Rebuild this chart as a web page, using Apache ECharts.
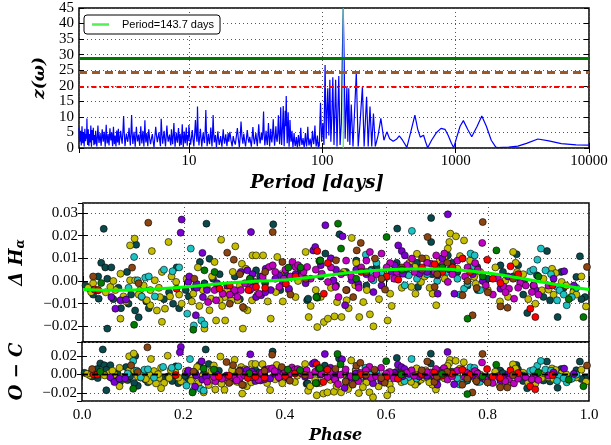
<!DOCTYPE html>
<html><head><meta charset="utf-8">
<script src="https://cdn.jsdelivr.net/npm/echarts@6/dist/echarts.min.js"></script>
<style>html,body{margin:0;padding:0;background:#fff}#c{width:611px;height:445px}</style>
</head><body><div id="c"></div><script>
// ---------- DATA ----------
const bestPeriod = 143.7;
const legendLabel = 'Period=143.7 days';
const zLevels = [29.0, 24.4, 19.7];           // green solid, brown dashed, red dash-dot
const periodTicks = [10, 100, 1000, 10000];
const phaseTicks = [0, 0.2, 0.4, 0.6, 0.8, 1.0];

// periodogram [period (days), z]
const periodogram = [
[1.50,6.5],[1.51,3.5],[1.52,2.0],[1.53,4.0],[1.54,5.5],[1.55,3.0],[1.56,0.8],[1.57,3.6],[1.58,7.0],[1.59,4.2],[1.60,1.5],[1.61,3.2],[1.62,4.8],[1.63,2.5],[1.64,0.5],[1.65,3.8],[1.66,6.2],[1.67,3.5],[1.68,2.2],[1.69,4.5],[1.70,5.0],[1.71,3.0],[1.72,9.5],[1.73,4.0],[1.74,1.0],[1.75,3.3],[1.76,6.0],[1.77,2.8],[1.78,0.6],[1.79,3.0],[1.80,4.5],[1.81,2.6],[1.82,1.8],[1.83,4.4],[1.84,7.2],[1.85,3.1],[1.86,0.4],[1.87,3.5],[1.88,5.8],[1.89,4.0],[1.90,2.5],[1.91,4.6],[1.92,6.5],[1.93,3.0],[1.94,0.9],[1.95,2.8],[1.96,4.2],[1.97,2.5],[1.98,1.2],[1.99,3.4],
[2.00,5.5],[2.02,2.6],[2.04,0.5],[2.06,3.8],[2.08,7.2],[2.10,3.3],[2.12,1.6],[2.14,3.5],[2.16,4.8],[2.18,2.2],[2.20,0.7],[2.22,3.9],[2.24,6.0],[2.26,3.6],[2.28,2.0],[2.30,4.1],[2.32,5.2],[2.34,2.4],[2.36,0.4],[2.38,4.2],[2.40,7.5],[2.42,3.5],[2.44,1.5],[2.46,3.0],[2.48,4.5],[2.50,2.1],[2.52,0.8],[2.54,3.7],[2.56,6.3],[2.58,4.0],[2.60,2.4],[2.62,3.8],[2.64,5.0],[2.66,2.3],[2.68,0.6],[2.70,3.9],[2.72,6.8],[2.74,3.4],[2.76,1.2],[2.78,2.9],[2.80,4.0],[2.82,2.0],[2.84,0.5],[2.86,3.2],[2.88,5.6],[2.90,3.6],[2.92,1.8],[2.94,4.3],[2.96,6.2],[2.98,3.0],
[3.00,0.9],[3.04,3.4],[3.08,5.5],[3.12,3.1],[3.16,1.4],[3.20,5.0],[3.24,10.3],[3.28,4.5],[3.32,0.6],[3.36,2.8],[3.40,4.6],[3.44,3.0],[3.48,2.0],[3.52,4.1],[3.56,6.5],[3.60,3.2],[3.64,0.8],[3.68,4.8],[3.72,10.6],[3.76,4.4],[3.80,1.3],[3.84,3.3],[3.88,5.2],[3.92,2.6],[3.96,0.4],[4.00,3.7],[4.04,6.8],[4.08,4.0],[4.12,2.1],[4.16,3.4],[4.20,4.3],[4.24,2.2],[4.28,0.7],[4.32,3.9],[4.36,7.0],[4.40,3.8],[4.44,1.5],[4.48,3.6],[4.52,5.5],[4.56,2.7],[4.60,0.5],[4.64,4.2],[4.68,8.9],[4.72,4.1],[4.76,1.8],[4.80,3.5],[4.84,4.8],[4.88,2.4],[4.92,0.6],[4.96,3.3],
[5.00,6.0],[5.08,3.0],[5.16,1.2],[5.24,3.1],[5.32,4.5],[5.40,2.0],[5.48,0.3],[5.56,3.6],[5.64,6.8],[5.72,3.9],[5.80,1.9],[5.88,3.6],[5.96,5.0],[6.04,2.4],[6.12,0.6],[6.20,9.4],[6.28,4.5],[6.36,1.4],[6.44,3.5],[6.52,5.5],[6.60,2.6],[6.68,0.5],[6.76,3.9],[6.84,7.2],[6.92,3.8],[7.00,2.0],[7.08,3.3],[7.16,4.3],[7.24,2.1],[7.32,0.8],[7.40,6.0],[7.48,3.2],[7.56,1.2],[7.64,4.4],[7.72,8.0],[7.80,3.5],[7.88,0.4],[7.96,3.0],[8.04,5.0],[8.12,2.8],[8.20,1.7],[8.28,4.3],[8.36,6.4],[8.44,3.0],[8.52,0.6],[8.60,4.6],[8.68,2.6],[8.76,1.0],[8.84,4.2],[8.92,7.6],[9.00,3.5],[9.08,0.3],[9.16,3.0],[9.24,5.3],[9.32,2.8],[9.40,1.5],[9.48,4.0],[9.56,6.6],[9.64,3.1],[9.72,0.7],[9.80,4.2],[9.88,2.3],[9.96,5.0],
[10.0,7.4],[10.15,3.6],[10.3,1.1],[10.45,3.2],[10.6,5.8],[10.75,2.6],[10.9,0.5],[11.05,4.5],[11.2,9.0],[11.35,4.2],[11.5,2.0],[11.6,13.3],[11.75,4.0],[11.9,0.8],[12.05,3.6],[12.2,6.2],[12.35,2.8],[12.5,0.4],[12.65,3.0],[12.8,5.0],[12.95,2.5],[13.1,1.6],[13.25,5.5],[13.4,12.2],[13.55,4.5],[13.7,0.6],[13.85,2.6],[14.0,4.6],[14.15,2.4],[14.3,1.2],[14.45,3.9],[14.6,6.6],[14.75,3.0],[14.9,0.5],[15.05,4.8],[15.2,10.6],[15.35,4.6],[15.5,1.8],[15.65,3.0],[15.8,4.2],[15.95,2.0],[16.1,0.3],[16.3,3.1],[16.5,5.4],[16.7,2.6],[16.9,1.0],[17.1,2.5],[17.3,3.8],[17.5,1.8],[17.7,0.4],[17.9,3.4],[18.1,6.0],[18.3,3.0],[18.5,1.4],[18.7,2.9],[18.9,4.4],[19.1,2.2],[19.3,0.6],[19.5,3.0],[19.7,4.8],[19.9,2.0],
[20.3,5.2],[20.7,2.4],[21.1,0.5],[21.5,3.8],[21.9,2.0],[22.3,1.1],[22.7,3.8],[23.1,6.4],[23.5,2.8],[23.9,0.3],[24.3,4.0],[24.6,8.5],[25.0,3.6],[25.4,1.4],[25.8,4.6],[26.2,2.2],[26.6,0.5],[27.0,3.1],[27.4,5.8],[27.8,3.0],[28.2,1.7],[28.6,3.6],[29.0,2.0],[29.4,0.4],[29.8,3.4],[30.2,6.7],[30.6,3.1],[31.0,1.2],[31.4,3.0],[31.8,4.8],[32.2,2.4],[32.6,0.6],[33.0,4.0],[33.4,7.6],[33.8,3.6],[34.2,1.5],[34.6,3.2],[35.0,5.0],[35.4,2.5],[35.8,4.5],[36.3,11.7],[36.7,4.0],[37.1,0.8],[37.5,3.0],[37.9,5.5],[38.3,2.7],[38.7,1.0],[39.1,4.2],[39.5,8.0],[39.9,3.6],[40.3,0.5],[40.7,3.4],[41.1,6.2],[41.5,3.0],[41.9,1.8],[42.4,4.6],[42.9,9.2],[43.4,4.0],[43.9,0.7],[44.4,3.5],[44.9,7.0],[45.4,3.2],[45.9,2.0],[46.4,5.0],[46.9,10.5],[47.4,4.5],[47.9,1.2],[48.4,6.0],[48.8,13.1],[49.2,5.0],[49.6,1.0],
[50.0,4.5],[50.5,8.0],[51.0,13.5],[51.4,5.0],[51.8,0.6],[52.2,5.0],[52.7,12.0],[53.2,7.0],[53.7,16.7],[54.2,6.0],[54.6,1.5],[55.0,5.0],[55.5,11.5],[56.0,4.0],[56.4,0.4],[56.8,3.5],[57.3,9.0],[57.8,4.5],[58.3,2.0],[58.8,3.2],[59.3,5.5],[59.8,2.2],[60.3,0.3],[60.9,2.5],[61.5,4.8],[62.1,2.0],[62.7,0.6],[63.3,1.8],[63.9,3.5],[64.5,1.5],[65.1,0.2],[65.7,2.2],[66.3,4.2],[67.0,2.0],[67.6,0.5],[68.3,3.0],[69.0,6.5],[69.7,2.8],[70.4,1.0],[71.1,2.0],[71.8,3.2],[72.5,1.2],[73.3,0.3],[74.0,2.4],[74.8,4.8],[75.5,2.0],[76.3,0.5],[77.1,3.2],[77.9,6.8],[78.7,3.0],[79.5,0.8],[80.3,1.8],[81.1,3.0],[82.0,1.4],[82.8,0.3],[83.6,2.6],[84.5,5.5],[85.4,2.6],[86.3,1.2],[87.2,3.5],[88.1,7.2],[89.0,3.0],[90.0,0.5],[91.0,2.2],[91.9,4.0],[92.7,1.5],[93.5,0.3],[94.3,1.8],
[95,0.5],[97,14.5],[99,2],[101,8],[103,1],[105,26.7],[107,3],[108.5,12],[110,19.2],[112,4],[114,21.9],[116,2],[118,10],[120,22.7],[122.5,1],[126,21.9],[129,0.5],[133,23.1],[136,1],[139,8],[141.5,30],[143.7,45],[146,28],[148.5,3],[153,19.7],[155.5,2],[158,19.2],[161,1],[165,14],[170,0.5],[180,24.2],[186,0.5],[192,8],[200,19.7],[206,0.5],[215,16.5],[221,0.5],[228,13.3],[235,0.5],[242,11.1],[250,0.5],[262,4],[275,9.5],[290,2.5],[305,5.2],[320,3],[340,2.2],[360,2.8],[378,3.9],[400,2.5],[431,0.2],[460,5],[495,10.6],[520,6],[543,3.5],[575,4.1],[595,2],[617,0.1],[660,2.5],[720,5],[777,6.3],[800,6.2],[832,6.0],[880,4],[930,1.5],[968,0.1],[1020,3.5],[1080,7],[1143,8.8],[1230,6],[1321,3.6],[1450,7],[1571,10.3],[1700,7],[1850,2.5],[2000,0.3],[2074,0.1],[2500,0.3],[2930,0.6],[3400,1.5],[4140,2.9],[5000,2.3],[6200,1.4],[8000,1.0],[10000,0.9]
];

// phased H-alpha index [phase, dH]
const tealPts = [[0.041,0.023],[0.036,0.008],[0.044,0.006],[0.056,0.006],[0.048,0.001],[0.048,-0.021],[0.005,-0.002],[0.014,-0.0034],[0.031,-0.0078],[0.087,0.004],[0.09,-0.010],[0.11,-0.016],[0.103,-0.013],[0.105,0.016],[0.178,-0.010],[0.19,-0.012],[0.209,-0.0068],[0.231,0.0084],[0.244,0.0253],[0.25,0.0098],[0.257,0.001],[0.203,-0.004],[0.376,0.025],[0.342,0.0047],[0.443,-0.0085],[0.463,-0.0068],[0.507,0.0206],[0.479,0.0121],[0.445,-0.0078],[0.621,0.0231],[0.688,0.0278],[0.688,0.0172],[0.721,0.0113],[0.825,0.0069],[0.857,0.0118],[0.917,0.0132],[0.982,0.0109],[0.975,0.0018],[0.992,-0.0071],[0.878,-0.0141],[0.938,-0.0159],[0.662,-0.0026],[0.6,0.0018],[0.74,0.004],[0.779,0.0062],[0.851,0.0021],[0.897,0.0025],[0.923,-0.0085],[0.02,-0.006],[0.06,-0.008],[0.075,-0.012],[0.125,-0.009],[0.16,-0.008],[0.22,-0.003],[0.28,-0.006],[0.30,0.002],[0.33,-0.004],[0.36,-0.001],[0.40,0.003],[0.52,0.004],[0.56,-0.002],[0.58,0.006],[0.64,0.003],[0.70,0.006],[0.76,-0.002],[0.80,0.001],[0.87,-0.006],[0.95,-0.003],
[0.03,0.002],[0.07,-0.003],[0.095,-0.006],[0.13,-0.012],[0.17,-0.005],[0.185,0.006],[0.24,-0.001],[0.27,0.003],[0.31,-0.008],[0.35,0.002],[0.39,-0.004],[0.43,0.004],[0.47,0.002],[0.50,-0.002],[0.54,0.009],[0.57,0.005],[0.62,0.008],[0.66,0.008],[0.69,0.003],[0.73,0.008],[0.75,0.010],[0.78,-0.004],[0.83,0.004],[0.86,0.007],[0.89,-0.002],[0.91,-0.007],[0.945,0.004],[0.97,-0.004],[0.985,-0.008]];
const olivePts = [[0.093,0.0157],[0.102,0.0187],[0.136,0.0132],[0.169,0.0172],[0.074,0.0032],[0.093,0.0003],[0.074,-0.0166],[0.08,-0.0068],[0.116,-0.0071],[0.133,-0.0107],[0.142,0.0003],[0.156,0.004],[0.152,-0.0071],[0.162,-0.0122],[0.156,-0.018],[0.172,-0.0068],[0.184,-0.0004],[0.133,-0.004],[0.113,-0.004],[0.064,-0.004],[0.016,-0.0049],[0.03,-0.0041],[0.054,-0.0026],[0.146,-0.013],[0.126,-0.0085],[0.103,0.0003],[0.227,0.006],[0.26,0.0084],[0.237,-0.004],[0.253,-0.0078],[0.273,0.0182],[0.301,0.0153],[0.296,0.004],[0.314,0.0076],[0.322,0.0054],[0.335,0.0113],[0.342,0.0113],[0.356,0.0113],[0.316,-0.021],[0.306,-0.0085],[0.325,-0.0129],[0.28,-0.0071],[0.27,-0.0085],[0.25,-0.0129],[0.24,-0.021],[0.263,-0.0174],[0.281,-0.0174],[0.371,-0.0166],[0.355,0.001],[0.384,0.0106],[0.381,-0.0049],[0.407,-0.004],[0.42,-0.0071],[0.44,0.0128],[0.46,-0.004],[0.463,-0.0203],[0.446,-0.0159],[0.218,-0.0056],[0.293,-0.0085],[0.334,-0.0085],[0.531,0.019],[0.476,-0.0181],[0.484,-0.0166],[0.497,-0.0156],[0.511,-0.0159],[0.546,-0.0159],[0.567,-0.0147],[0.574,-0.02],[0.602,-0.0174],[0.538,-0.0019],[0.561,-0.004],[0.554,-0.0093],[0.521,-0.0085],[0.502,-0.0093],[0.607,-0.0056],[0.657,-0.0056],[0.698,-0.0107],[0.691,-0.0056],[0.668,-0.0004],[0.726,0.0209],[0.737,0.0197],[0.753,0.0179],[0.724,0.0172],[0.721,0.0143],[0.714,0.0106],[0.678,0.0099],[0.656,0.0062],[0.708,0.0062],[0.74,0.0054],[0.773,0.0018],[0.776,-0.0012],[0.819,0.0018],[0.835,0.0003],[0.85,0.0128],[0.858,0.004],[0.824,-0.009],[0.894,-0.01],[0.907,-0.0041],[0.927,0.0054],[0.934,0.0035],[0.92,-0.0038],[0.946,-0.0004],[0.969,-0.0049],[0.994,-0.0112],[0.964,-0.0071],[0.649,-0.0026],[0.01,-0.003],[0.045,-0.005],[0.085,-0.009],[0.12,-0.002],[0.175,0.002],[0.195,-0.010],
[0.02,-0.001],[0.06,0.0],[0.11,-0.006],[0.15,-0.003],[0.19,-0.006],[0.205,0.001],[0.215,-0.009],[0.23,-0.011],[0.245,-0.003],[0.255,0.002],[0.265,-0.002],[0.275,-0.011],[0.285,-0.004],[0.31,-0.002],[0.318,-0.012],[0.33,0.001],[0.345,-0.006],[0.365,-0.009],[0.39,0.003],[0.395,-0.009],[0.425,0.0],[0.45,-0.011],[0.47,-0.007],[0.49,-0.003],[0.515,0.004],[0.525,-0.012],[0.54,0.008],[0.585,-0.008],[0.595,0.003],[0.61,-0.011],[0.63,-0.003],[0.645,0.008],[0.66,0.012],[0.675,0.002],[0.685,-0.003],[0.705,0.009],[0.715,0.001],[0.745,0.011],[0.765,0.009],[0.785,0.004],[0.80,-0.004],[0.815,0.006],[0.84,-0.007],[0.855,0.008],[0.87,0.003],[0.88,-0.008],[0.91,0.001],[0.93,-0.006],[0.955,-0.002],[0.975,-0.006],[0.985,0.002]];
const purplePts = [[0.195,0.0271],[0.193,0.0213],[0.056,-0.0071],[0.064,-0.0122],[0.074,-0.0085],[0.085,-0.0082],[0.236,0.0124],[0.223,-0.0151],[0.332,0.0216],[0.208,-0.0004],[0.224,-0.0012],[0.237,-0.0071],[0.312,0.004],[0.325,0.0047],[0.342,-0.0071],[0.352,-0.0063],[0.371,-0.004],[0.361,0.0054],[0.388,0.0025],[0.407,-0.0034],[0.455,0.0135],[0.459,0.015],[0.479,0.0246],[0.721,0.0294],[0.513,0.0197],[0.623,0.0157],[0.63,0.0132],[0.636,0.0113],[0.495,0.0003],[0.531,0.0003],[0.544,-0.0012],[0.521,-0.004],[0.574,-0.0049],[0.518,-0.0107],[0.616,0.0069],[0.632,0.0032],[0.665,0.0032],[0.701,0.0025],[0.734,-0.0056],[0.951,0.0043],[0.825,-0.0034],[0.864,0.0003],[0.894,-0.0038],[0.701,-0.0056],
[0.21,0.002],[0.225,-0.003],[0.245,-0.004],[0.265,-0.001],[0.285,-0.002],[0.30,-0.005],[0.335,0.003],[0.36,-0.005],[0.38,0.001],[0.395,-0.001],[0.42,0.003],[0.44,-0.001],[0.47,0.007],[0.49,0.010],[0.50,0.005],[0.54,0.005],[0.56,0.003],[0.59,-0.002],[0.61,0.004],[0.645,0.006],[0.68,0.004],[0.71,0.010],[0.725,0.005],[0.77,0.003],[0.79,0.0],[0.84,0.002],[0.87,-0.001],[0.93,0.001],[0.97,-0.002]];
const magentaPts = [[0.312,-0.004],[0.329,-0.0026],[0.348,-0.0056],[0.368,0.0062],[0.375,0.0069],[0.397,0.001],[0.414,0.0084],[0.42,0.0062],[0.433,0.0025],[0.247,-0.0093],[0.263,-0.0085],[0.276,-0.0056],[0.299,-0.004],[0.34,-0.0004],[0.388,-0.0026],[0.436,0.004],[0.567,0.0128],[0.789,0.0168],[0.484,-0.0004],[0.499,-0.0026],[0.505,-0.0071],[0.607,0.0079],[0.65,0.0099],[0.688,0.0076],[0.698,0.0113],[0.714,0.0121],[0.721,-0.0004],[0.775,0.0079],[0.796,-0.0019],[0.832,-0.0026],[0.842,-0.0034],[0.852,-0.0078],[0.864,-0.0009],[0.891,-0.0019],[0.887,-0.0049],[0.472,0.0032],[0.443,0.0062],[0.59,0.0121],[0.53,0.002],[0.55,0.006],[0.57,0.001],[0.62,0.004],[0.67,0.005],[0.73,0.003],[0.76,0.006],[0.81,-0.006],
[0.26,-0.004],[0.29,-0.006],[0.305,-0.007],[0.32,-0.001],[0.335,-0.003],[0.355,0.002],[0.38,0.004],[0.40,0.005],[0.41,0.002],[0.425,0.007],[0.45,0.001],[0.46,0.005],[0.49,0.006],[0.51,0.003],[0.52,0.009],[0.545,-0.003],[0.56,0.009],[0.58,0.003],[0.60,0.006],[0.615,0.001],[0.64,0.007],[0.655,0.004],[0.68,0.008],[0.695,0.004],[0.71,0.007],[0.74,0.009],[0.755,0.002],[0.78,0.005],[0.82,0.001],[0.835,-0.005],[0.86,-0.003],[0.875,-0.002],[0.90,-0.006],[0.92,-0.002]];
const cyanPts = [[0.101,0.0106],[0.108,0.0003],[0.123,0.0015],[0.142,-0.0068],[0.116,-0.0068],[0.177,0.0043],[0.213,0.0143],[0.206,-0.0144],[0.219,-0.0196],[0.234,-0.0174],[0.24,-0.0191],[0.559,0.0116],[0.546,0.0054],[0.568,0.0043],[0.574,0.0003],[0.644,0.0025],[0.636,-0.0019],[0.65,0.0221],[0.766,0.0121],[0.774,0.0113],[0.74,0.001],[0.753,-0.0034],[0.76,-0.0012],[0.884,0.0043],[0.898,0.0094],[0.905,0.0143],[0.914,0.0047],[0.937,-0.0026],[0.942,-0.0041],[0.956,-0.0107],[0.937,-0.0085],[0.966,-0.0071],
[0.09,-0.003],[0.13,0.002],[0.16,0.005],[0.19,0.006],[0.58,0.008],[0.59,0.003],[0.62,0.002],[0.66,0.001],[0.68,0.003],[0.70,0.0],[0.72,0.004],[0.745,-0.006],[0.77,0.006],[0.785,-0.004],[0.87,0.0],[0.89,0.005],[0.925,0.003],[0.95,-0.006],[0.975,-0.003]];
const redPts = [[0.023,-0.0038],[0.185,-0.0034],[0.27,-0.0034],[0.327,-0.004],[0.342,-0.0026],[0.401,-0.0012],[0.463,0.0132],[0.484,0.0079],[0.623,0.0006],[0.695,0.0074],[0.75,0.0099],[0.799,0.0094],[0.845,0.0065],[0.825,-0.0009],[0.884,-0.0122],[0.894,-0.0159],[0.928,-0.0019],[0.476,-0.0056],
[0.03,-0.004],[0.29,-0.002],[0.36,-0.003],[0.42,0.002],[0.55,0.004],[0.60,0.002],[0.67,0.006],[0.71,0.004],[0.73,0.006],[0.765,0.004],[0.81,0.001],[0.86,0.003]];
const brownPts = [[0.129,0.0257],[0.097,0.0059],[0.285,0.0125],[0.298,0.0094],[0.29,-0.01],[0.375,0.0216],[0.394,0.0084],[0.316,-0.0115],[0.5,0.0091],[0.541,0.0135],[0.549,0.0168],[0.577,0.0099],[0.681,0.0194],[0.79,0.026],[0.597,-0.0038],[0.778,-0.0031],[0.695,-0.0026],[0.75,-0.0063],[0.825,-0.0112],[0.839,-0.0118],[0.77,-0.0151],[0.996,0.0062],[0.534,-0.0071],
[0.02,0.002],[0.11,-0.001],[0.22,0.001],[0.31,0.003],[0.36,0.004],[0.41,-0.006],[0.44,0.001],[0.52,-0.004],[0.56,0.004],[0.59,0.001],[0.63,0.006],[0.67,0.010],[0.70,0.003],[0.72,0.008],[0.76,0.0],[0.80,-0.005],[0.85,0.001]];
const greenPts = [[0.036,-0.0009],[0.101,-0.0193],[0.218,-0.0215],[0.24,0.0047],[0.406,0.0059],[0.463,-0.0074],[0.467,0.0088],[0.504,0.0253],[0.51,0.0143],[0.469,0.0091],[0.461,-0.0071],[0.6,0.0194],[0.817,0.0135],[0.76,-0.0166],[0.989,-0.0159],
[0.26,0.004],[0.33,0.001],[0.43,0.006],[0.54,0.001],[0.63,0.005],[0.71,0.006],[0.79,0.002],[0.90,0.002],[0.96,-0.008]];

// fitted sinusoid
const fitPhase = [0,0.05,0.1,0.15,0.2,0.25,0.3,0.35,0.4,0.45,0.5,0.55,0.6,0.65,0.7,0.75,0.8,0.85,0.9,0.95,1.0];
const fitValue = [-0.0038,-0.0041,-0.0040,-0.0034,-0.0026,-0.0016,-0.0007,0.0000,0.0004,0.0017,0.0030,0.0042,0.0050,0.0053,0.0053,0.0047,0.0035,0.0018,-0.0002,-0.0021,-0.0037];

// ---------- CHART ----------
const groups = [
  {pts: tealPts, color: '#0b4a4c'},
  {pts: olivePts, color: '#c4bd00'},
  {pts: cyanPts, color: '#1ec2c2'},
  {pts: purplePts, color: '#7a00d2'},
  {pts: magentaPts, color: '#c200c2'},
  {pts: redPts, color: '#ff0000'},
  {pts: brownPts, color: '#8b4513'},
  {pts: greenPts, color: '#007a00'}
];
function model(ph){
  for (let i = 0; i < fitPhase.length - 1; i++){
    if (ph <= fitPhase[i+1]){
      const t = (ph - fitPhase[i]) / (fitPhase[i+1] - fitPhase[i]);
      return fitValue[i] + t * (fitValue[i+1] - fitValue[i]);
    }
  }
  return fitValue[fitValue.length - 1];
}
const serif = 'Liberation Serif';
const tfont = 'DejaVu Serif';
const gridLine = {show: true, lineStyle: {color: '#555', type: [1, 3], width: 1}};
const tick = {show: true, inside: true, length: 5, lineStyle: {color: '#000', width: 1}};
const lab = {fontFamily: serif, fontSize: 15, color: '#000'};
function fmt2(v){ return (v < 0 ? '\u2212' : '') + Math.abs(v).toFixed(2); }
const nameStyle = {fontFamily: tfont, fontWeight: 'bold', fontStyle: 'italic', fontSize: 16, color: '#000'};
const gridBase = {left: 79, width: 510, show: true, borderColor: '#000', borderWidth: 1.5, backgroundColor: 'rgba(0,0,0,0)'};
const hidden = {axisLine: {show: false}, axisLabel: {show: false}, splitLine: {show: false}, axisTick: tick};

const series = [];
series.push({
  type: 'line', xAxisIndex: 0, yAxisIndex: 0, data: periodogram, symbol: 'none',
  lineStyle: {color: '#0000ff', width: 1.2}, z: 3, silent: true,
  markLine: {silent: true, symbol: 'none', label: {show: false}, animation: false,
    data: [
      {yAxis: zLevels[0], lineStyle: {color: '#007a00', width: 3, type: 'solid'}},
      {yAxis: zLevels[1], lineStyle: {color: '#9a5a2c', width: 3, type: [8, 5]}},
      {yAxis: zLevels[2], lineStyle: {color: '#ff0000', width: 2, type: [5, 3, 1.5, 3]}}
    ]}
});
series.push({
  name: legendLabel, type: 'line', xAxisIndex: 0, yAxisIndex: 0,
  data: [[bestPeriod, 0], [bestPeriod, 45]], symbol: 'none',
  lineStyle: {color: '#44ee44', width: 1.2}, itemStyle: {color: '#55ee55'}, z: 4
});
groups.forEach(g => {
  series.push({type: 'scatter', xAxisIndex: 1, yAxisIndex: 1, data: g.pts, symbolSize: 7,
    itemStyle: {color: g.color, borderColor: '#000', borderWidth: 0.6, opacity: 1}, z: 2});
  series.push({type: 'scatter', xAxisIndex: 2, yAxisIndex: 2,
    data: g.pts.map(p => [p[0], p[1] - model(p[0])]), symbolSize: 7,
    itemStyle: {color: g.color, borderColor: '#000', borderWidth: 0.6, opacity: 1}, z: 2});
});
series.push({type: 'line', xAxisIndex: 1, yAxisIndex: 1, data: fitPhase.map((p, i) => [p, fitValue[i]]),
  symbol: 'none', smooth: 0.4, lineStyle: {color: '#00ff00', width: 3}, z: 5});
series.push({type: 'line', xAxisIndex: 2, yAxisIndex: 2, data: [[phaseTicks[0], 0], [phaseTicks[phaseTicks.length-1], 0]],
  symbol: 'none', lineStyle: {color: '#000', width: 2, type: [6, 4]}, z: 5});

const option = {
  animation: false,
  backgroundColor: '#fff',
  legend: {
    data: [{name: legendLabel, icon: 'rect'}], left: 84, top: 15, orient: 'horizontal',
    itemWidth: 17, itemHeight: 2.5, padding: [4, 6, 4, 8], borderColor: '#000', borderWidth: 1, borderRadius: 3,
    backgroundColor: '#fff', selectedMode: false,
    textStyle: {fontFamily: 'Liberation Sans', fontSize: 11, color: '#000', padding: [0, 0, 0, 8]}
  },
  grid: [
    Object.assign({top: 8, height: 140}, gridBase),
    Object.assign({top: 203, height: 139}, gridBase),
    Object.assign({top: 342, height: 62}, gridBase)
  ],
  xAxis: [
    {gridIndex: 0, type: 'log', logBase: 10, min: 1.5, max: periodTicks[periodTicks.length-1],
      axisLine: {show: false}, axisTick: tick,
      axisLabel: Object.assign({showMinLabel: false, showMaxLabel: true, margin: 6, formatter: v => String(Math.round(v))}, lab),
      splitLine: gridLine,
      name: 'Period [days]', nameLocation: 'middle', nameGap: 26,
      nameTextStyle: Object.assign({}, nameStyle, {fontSize: 18, padding: [0, 34, 0, 0]})},
    {gridIndex: 1, type: 'value', min: 0, max: 1, interval: 0.2, axisLine: {show: false}, axisTick: tick,
      axisLabel: {show: false}, splitLine: gridLine},
    {gridIndex: 2, type: 'value', min: 0, max: 1, interval: 0.2, axisLine: {show: false}, axisTick: tick,
      axisLabel: Object.assign({margin: 7, formatter: v => v.toFixed(1)}, lab), splitLine: gridLine,
      name: 'Phase', nameLocation: 'middle', nameGap: 27, nameTextStyle: nameStyle},
    Object.assign({gridIndex: 0, type: 'log', logBase: 10, min: 1.5, max: 10000, position: 'top'}, hidden),
    Object.assign({gridIndex: 1, type: 'value', min: 0, max: 1, interval: 0.2, position: 'top'}, hidden),
    Object.assign({gridIndex: 2, type: 'value', min: 0, max: 1, interval: 0.2, position: 'top'}, hidden)
  ],
  yAxis: [
    {gridIndex: 0, type: 'value', min: 0, max: 45, interval: 5, axisLine: {show: false}, axisTick: tick,
      axisLabel: Object.assign({margin: 5, showMinLabel: true, showMaxLabel: true}, lab), splitLine: gridLine,
      name: 'z(\u03c9)', nameLocation: 'middle', nameGap: 28, nameRotate: 90,
      nameTextStyle: Object.assign({}, nameStyle, {fontSize: 17})},
    {gridIndex: 1, type: 'value', min: -0.0269, max: 0.0344, splitNumber: 6, axisLine: {show: false}, axisTick: tick,
      axisLabel: Object.assign({margin: 5, showMinLabel: false, showMaxLabel: false, formatter: fmt2}, lab),
      splitLine: gridLine,
      name: '{a|\u0394 H}{b|\u03b1}', nameLocation: 'middle', nameGap: 56, nameRotate: 90,
      nameTextStyle: {color: '#000', padding: [0, 0, 0, 20], rich: {
        a: {fontFamily: tfont, fontWeight: 'bold', fontStyle: 'italic', fontSize: 18, color: '#000'},
        b: {fontFamily: tfont, fontWeight: 'bold', fontStyle: 'italic', fontSize: 12, color: '#000', padding: [8, 0, 0, 0]}
      }}},
    {gridIndex: 2, type: 'value', min: -0.0285, max: 0.0351, splitNumber: 3, axisLine: {show: false}, axisTick: tick,
      axisLabel: Object.assign({margin: 5, showMinLabel: false, showMaxLabel: false, formatter: fmt2}, lab),
      splitLine: gridLine,
      name: 'O \u2212 C', nameLocation: 'middle', nameGap: 56, nameRotate: 90,
      nameTextStyle: Object.assign({}, nameStyle, {fontSize: 18})},
    Object.assign({gridIndex: 0, type: 'value', min: 0, max: 45, interval: 5, position: 'right'}, hidden),
    Object.assign({gridIndex: 1, type: 'value', min: -0.0269, max: 0.0344, splitNumber: 6, position: 'right'}, hidden),
    Object.assign({gridIndex: 2, type: 'value', min: -0.0285, max: 0.0351, splitNumber: 3, position: 'right'}, hidden)
  ],
  series: series
};
const chart = echarts.init(document.getElementById('c'), null, {renderer: 'canvas'});
chart.setOption(option);
</script></body></html>
